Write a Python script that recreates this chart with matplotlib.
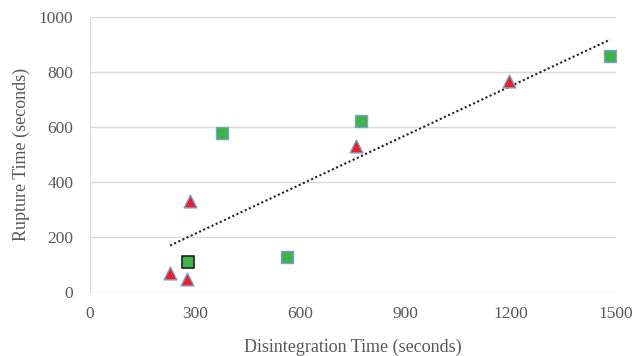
import numpy as np
import matplotlib
matplotlib.use("Agg")
import matplotlib.pyplot as plt

plt.rcParams['font.family'] = ['Liberation Serif', 'DejaVu Serif']

sq_x = [376, 562, 773, 1483]
sq_y = [578, 127, 622, 858]
sq2_x = [279]
sq2_y = [109]
tri_x = [228, 277, 285, 758, 1195]
tri_y = [69, 47, 331, 531, 767]
xticks = [0, 300, 600, 900, 1200, 1500]
yticks = [0, 200, 400, 600, 800, 1000]

fig = plt.figure(figsize=(6.34, 3.56), dpi=100)
ax = fig.add_axes([0.142, 0.18, 0.83, 0.772])

all_x = np.array(sq_x + sq2_x + tri_x, dtype=float)
all_y = np.array(sq_y + sq2_y + tri_y, dtype=float)
m, b = np.polyfit(all_x, all_y, 1)
xl = np.array([all_x.min(), all_x.max()])
ax.plot(xl, m * xl + b, linestyle=(0, (1, 1.2)), color='#222222', lw=1.5, zorder=2)

ax.scatter(sq_x, sq_y, marker='s', s=70, color='#3cb44a', edgecolor='#7f9fcf', linewidths=1.0, zorder=3)
ax.scatter(sq2_x, sq2_y, marker='s', s=70, color='#3cb44a', edgecolor='#222222', linewidths=1.2, zorder=3)
ax.scatter(tri_x, tri_y, marker='^', s=85, color='#e8202a', edgecolor='#7f9fcf', linewidths=1.0, zorder=3)

ax.set_xlim(0, 1500)
ax.set_ylim(0, 1000)
ax.set_xticks(xticks)
ax.set_yticks(yticks)
ax.yaxis.grid(True, color='#d9d9d9', lw=1)
ax.set_axisbelow(True)
for s in ['top', 'right', 'bottom']:
    ax.spines[s].set_visible(False)
ax.spines['left'].set_color('#d9d9d9')
ax.tick_params(length=0, labelsize=12.5, colors='#595959')
ax.tick_params(axis='x', pad=10)
ax.tick_params(axis='y', pad=12)
ax.set_xlabel('Disintegration Time (seconds)', fontsize=13, color='#595959', labelpad=12)
ax.set_ylabel('Rupture Time (seconds)', fontsize=13, color='#595959', labelpad=6)

fig.savefig('out.png', dpi=100)
